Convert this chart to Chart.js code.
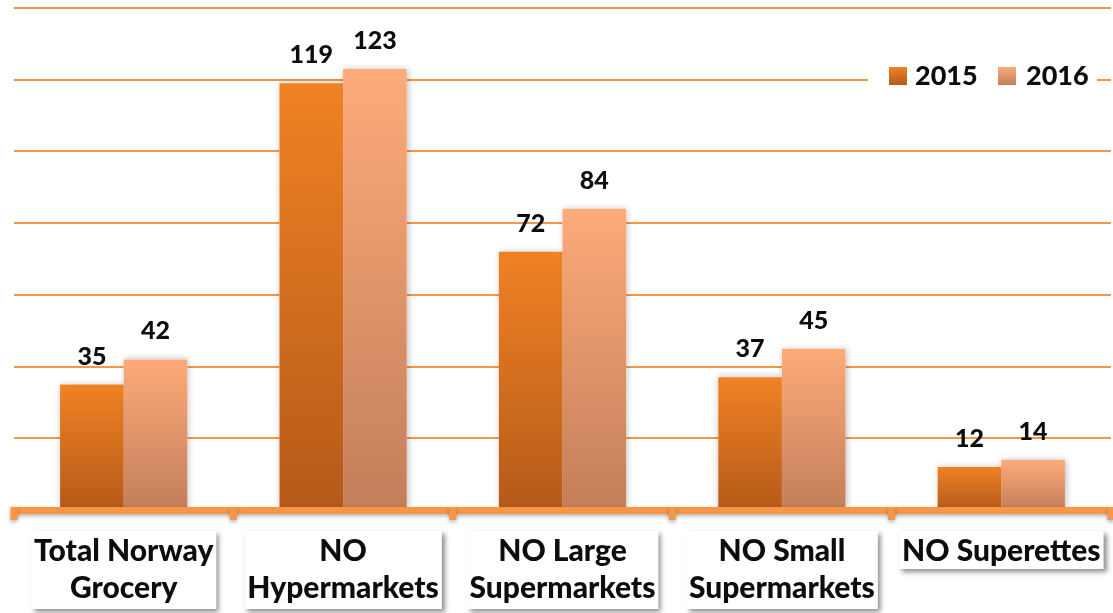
<!DOCTYPE html>
<html>
<head>
<meta charset="utf-8">
<script src="https://cdn.jsdelivr.net/npm/chart.js@4.4.1/dist/chart.umd.min.js"></script>
<style>
  html, body { margin: 0; padding: 0; background: #ffffff; }
  canvas { display: block; }
</style>
</head>
<body>
<canvas id="chart" width="1113" height="613"></canvas>
<script>
// Category labels (one entry per line of the label box)
const categories = [
  ["Total Norway", "Grocery"],
  ["NO", "Hypermarkets"],
  ["NO Large", "Supermarkets"],
  ["NO Small", "Supermarkets"],
  ["NO Superettes"]
];
const seriesNames = ["2015", "2016"];
const values2015 = [35, 119, 72, 37, 12];
const values2016 = [42, 123, 84, 45, 14];
const yTicks = [0, 20, 40, 60, 80, 100, 120, 140];

// Top / bottom colours of each series' vertical gradient
const fill2015 = ["#f08224", "#b45a19"];
const fill2016 = ["#fdab79", "#c37e5a"];
const accent = "#f79646";
const FONT = "Lato, 'Open Sans', sans-serif";
const WEIGHT = "900";

function barGradient(stops) {
  return (context) => {
    const chart = context.chart;
    if (!chart.chartArea || context.type !== "data") return stops[0];
    const y = chart.scales.y;
    const top = y.getPixelForValue(context.raw);
    const base = y.getPixelForValue(0);
    const g = chart.ctx.createLinearGradient(0, top, 0, base);
    g.addColorStop(0, stops[0]);
    g.addColorStop(1, stops[1]);
    return g;
  };
}

// Soft shadow behind each bar, painted before the bars themselves
const barShadows = {
  id: "barShadows",
  beforeDatasetsDraw(chart) {
    const ctx = chart.ctx;
    ctx.save();
    ctx.shadowColor = "rgba(0,0,0,0.28)";
    ctx.shadowBlur = 7;
    ctx.shadowOffsetX = 1;
    ctx.fillStyle = "#ffffff";
    chart.data.datasets.forEach((ds, i) => {
      chart.getDatasetMeta(i).data.forEach((bar) => {
        const w = bar.width;
        ctx.fillRect(bar.x - w / 2, bar.y, w, bar.base - bar.y);
      });
    });
    ctx.restore();
  }
};

// Value labels above bars, base axis with ticks, category boxes, legend
const decorations = {
  id: "decorations",
  afterDatasetsDraw(chart) {
    const ctx = chart.ctx;
    const area = chart.chartArea;
    const xs = chart.scales.x;
    const ys = chart.scales.y;

    // value labels
    ctx.save();
    ctx.font = WEIGHT + " 25px " + FONT;
    ctx.fillStyle = "#0d0d0d";
    ctx.textAlign = "center";
    ctx.textBaseline = "alphabetic";
    chart.data.datasets.forEach((ds, i) => {
      chart.getDatasetMeta(i).data.forEach((bar, j) => {
        ctx.fillText(String(ds.data[j]), bar.x, bar.y - 20);
      });
    });
    ctx.restore();

    // base axis line with boundary ticks
    const baseY = ys.getPixelForValue(0);
    const n = categories.length;
    const step = (area.right - area.left) / n;
    ctx.save();
    ctx.shadowColor = "rgba(0,0,0,0.3)";
    ctx.shadowBlur = 4;
    ctx.shadowOffsetY = 2;
    ctx.fillStyle = accent;
    ctx.fillRect(area.left, baseY - 3, area.right - area.left, 7);
    for (let k = 0; k <= n; k++) {
      const tx = area.left + step * k;
      ctx.fillRect(tx - 3.5, baseY - 3, 7, 13);
    }
    ctx.restore();

    // category label boxes
    ctx.save();
    ctx.font = WEIGHT + " 30px " + FONT;
    ctx.textAlign = "center";
    ctx.textBaseline = "alphabetic";
    categories.forEach((lines, i) => {
      const cx = xs.getPixelForValue(i);
      const w = Math.max(...lines.map((t) => ctx.measureText(t).width)) + 6;
      const h = lines.length === 1 ? 38 : 78;
      const top = baseY + 21;
      ctx.save();
      ctx.shadowColor = "rgba(0,0,0,0.45)";
      ctx.shadowBlur = 5;
      ctx.shadowOffsetX = 3;
      ctx.shadowOffsetY = 3;
      ctx.fillStyle = "#ffffff";
      ctx.fillRect(cx - w / 2, top, w, h);
      ctx.restore();
      ctx.fillStyle = "#0d0d0d";
      lines.forEach((t, l) => {
        ctx.fillText(t, cx, top + 30 + l * 37);
      });
    });
    ctx.restore();

    // legend
    ctx.save();
    ctx.fillStyle = "#ffffff";
    ctx.fillRect(868, 57, 229, 38);
    ctx.font = WEIGHT + " 27px " + FONT;
    ctx.textBaseline = "alphabetic";
    ctx.textAlign = "left";
    const items = [
      { name: seriesNames[0], stops: fill2015, sx: 889, tx: 915 },
      { name: seriesNames[1], stops: fill2016, sx: 998, tx: 1026 }
    ];
    items.forEach((it) => {
      const g = ctx.createLinearGradient(0, 67, 0, 85);
      g.addColorStop(0, it.stops[0]);
      g.addColorStop(1, it.stops[1]);
      ctx.fillStyle = g;
      ctx.fillRect(it.sx, 67, 18, 18);
      ctx.fillStyle = "#0d0d0d";
      ctx.fillText(it.name, it.tx, 85);
    });
    ctx.restore();
  }
};

const chart = new Chart(document.getElementById("chart"), {
  type: "bar",
  data: {
    labels: categories,
    datasets: [
      { label: seriesNames[0], data: values2015, backgroundColor: barGradient(fill2015) },
      { label: seriesNames[1], data: values2016, backgroundColor: barGradient(fill2016) }
    ]
  },
  options: {
    responsive: false,
    animation: false,
    layout: { padding: { left: 14, right: 2, top: 8, bottom: 103 } },
    datasets: { bar: { categoryPercentage: 0.58, barPercentage: 1.0, borderWidth: 0 } },
    plugins: { legend: { display: false }, tooltip: { enabled: false } },
    scales: {
      x: { display: false, offset: true },
      y: {
        display: true,
        min: 0,
        max: 140,
        afterBuildTicks: (scale) => { scale.ticks = yTicks.map((v) => ({ value: v })); },
        ticks: { display: false },
        border: { display: false },
        grid: { color: accent, lineWidth: 2, drawTicks: false }
      }
    }
  },
  plugins: [barShadows, decorations]
});
</script>
</body>
</html>
